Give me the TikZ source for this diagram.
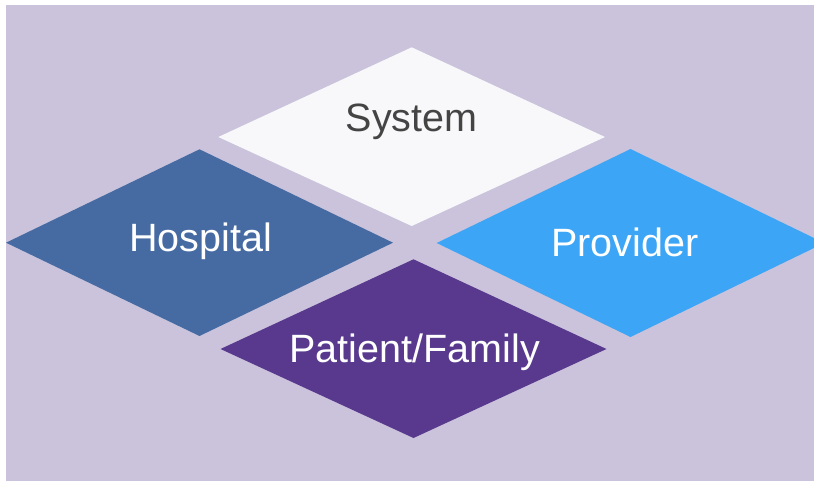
\documentclass[tikz,border=0pt]{standalone}
\usepackage{fontspec}
\setmainfont{Liberation Sans}
\definecolor{bgcol}{HTML}{CAC3DB}
\definecolor{syscol}{HTML}{F8F8FA}
\definecolor{hospcol}{HTML}{466BA3}
\definecolor{provcol}{HTML}{3DA5F5}
\definecolor{patcol}{HTML}{58398E}
\definecolor{darktext}{HTML}{444444}
\tikzset{
  tile/.style={draw=none},
  tilelabel/.style={anchor=base, inner sep=0pt, font=\fontsize{39.5}{41}\selectfont, text=white}
}
\begin{document}
\begin{tikzpicture}[x=1pt, y=-1pt]
  \useasboundingbox (0,0) rectangle (814,481);
  \clip (0,0) rectangle (814,481);
  % backdrop
  \fill[bgcol] (6,5) rectangle (814,481);
  % four rhombus tiles
  \fill[tile, syscol]  (218.3,137) -- (411.7,47.3) -- (605,137) -- (411.7,226) -- cycle;
  \fill[tile, hospcol] (6,242.7) -- (199.5,149.3) -- (393,242.7) -- (199.5,336) -- cycle;
  \fill[tile, provcol] (436.7,243) -- (630.5,149) -- (824.3,243) -- (630.5,337) -- cycle;
  \fill[tile, patcol]  (220.5,349) -- (413.5,259.3) -- (606.5,349) -- (413.5,438) -- cycle;
  % labels
  \node[tilelabel, text=darktext] (system)   at (411.7,131.7) {System};
  \node[tilelabel]                (hospital) at (200.8,251.7) {Hospital};
  \node[tilelabel]                (provider) at (624.7,256.7) {Provider};
  \node[tilelabel]                (patient)  at (414.7,362.7) {Patient/Family};
\end{tikzpicture}
\end{document}
